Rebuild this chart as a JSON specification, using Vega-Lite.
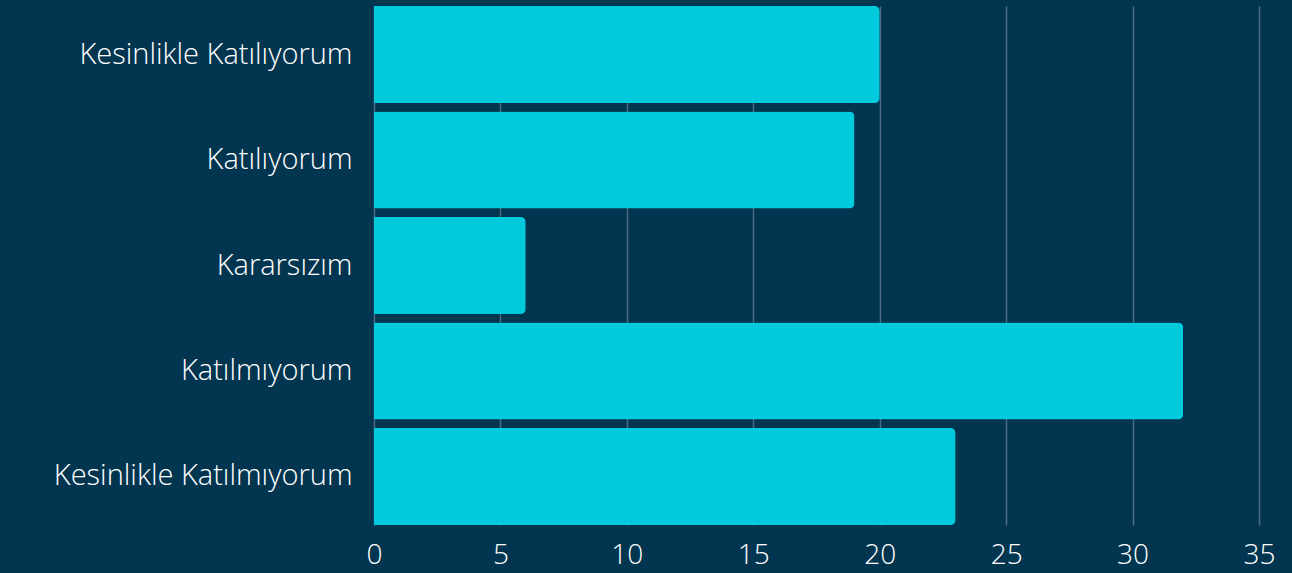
{
  "$schema": "https://vega.github.io/schema/vega-lite/v6.json",
  "width": 885,
  "height": 519,
  "autosize": {"type": "none"},
  "padding": {"left": 374, "top": 6, "right": 33, "bottom": 48},
  "background": "#02354f",
  "config": {
    "view": {"stroke": null},
    "font": "Open Sans"
  },
  "data": {
    "values": [
      {"category": "Kesinlikle Katılıyorum", "value": 20},
      {"category": "Katılıyorum", "value": 19},
      {"category": "Kararsızım", "value": 6},
      {"category": "Katılmıyorum", "value": 32},
      {"category": "Kesinlikle Katılmıyorum", "value": 23}
    ]
  },
  "mark": {"type": "bar", "color": "#00cadc", "cornerRadiusEnd": 5},
  "encoding": {
    "y": {
      "field": "category",
      "type": "nominal",
      "sort": null,
      "scale": {"paddingInner": 0.08, "paddingOuter": 0},
      "axis": {
        "title": null,
        "domain": false,
        "ticks": false,
        "labelFontSize": 29,
        "labelColor": "#ffffff",
        "labelPadding": 22,
        "labelFont": "Open Sans",
        "labelFontWeight": 300,
        "labelLimit": 400
      }
    },
    "x": {
      "field": "value",
      "type": "quantitative",
      "scale": {"domain": [0, 35], "nice": false},
      "axis": {
        "title": null,
        "domain": false,
        "ticks": false,
        "values": [0, 5, 10, 15, 20, 25, 30, 35],
        "grid": true,
        "gridColor": "#4d6e82",
        "gridWidth": 1.5,
        "labelFontSize": 28,
        "labelColor": "#ffffff",
        "labelPadding": 16,
        "labelFont": "Open Sans",
        "labelFontWeight": 300,
        "labelFlush": false
      }
    }
  }
}
